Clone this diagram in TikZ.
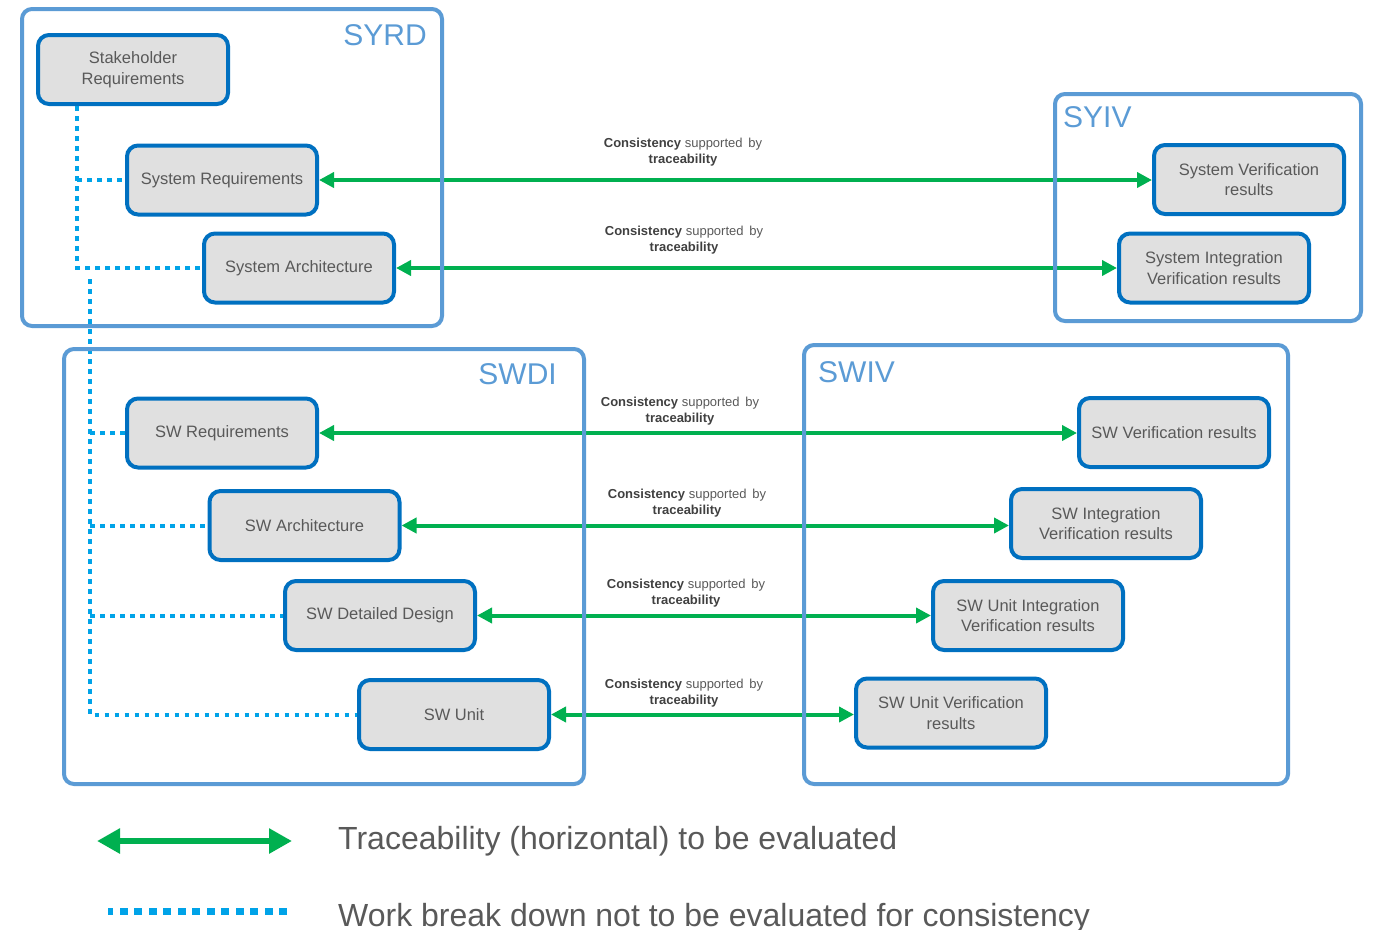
\documentclass[tikz,border=0pt]{standalone}
\usepackage{fontspec}
\setmainfont{Liberation Sans}
\usetikzlibrary{arrows.meta}

\definecolor{grpblue}{HTML}{5B9BD5}
\definecolor{boxblue}{HTML}{0070C0}
\definecolor{boxfill}{HTML}{E0E0E0}
\definecolor{txtgray}{HTML}{595959}
\definecolor{lblgray}{HTML}{404040}
\definecolor{tracegreen}{HTML}{00B050}
\definecolor{wbdblue}{HTML}{00A3E8}

\tikzset{
  wp/.style={draw=boxblue, line width=4pt, fill=boxfill, rounded corners=11pt,
    minimum width=190pt, minimum height=69pt, inner sep=0pt, align=center,
    text=txtgray, font=\fontsize{16.5}{20.5}\selectfont},
  grp/.style={draw=grpblue, line width=4pt, rounded corners=10pt},
  grplabel/.style={text=grpblue, inner sep=0pt, font=\fontsize{30}{34}\selectfont},
  trace/.style={draw=tracegreen, line width=4pt,
    {Triangle[length=15pt,width=15pt]}-{Triangle[length=15pt,width=15pt]}},
  wbd/.style={draw=wbdblue, line width=4pt, dash pattern=on 4.5pt off 5.5pt},
  tlabel/.style={align=center, text=lblgray, inner sep=0pt,
    font=\fontsize{13}{16}\selectfont},
  legendtext/.style={text=txtgray, inner sep=0pt, anchor=base west,
    font=\fontsize{32}{36}\selectfont}
}

\newcommand{\tracelabel}{\textbf{Consistency} {\color{txtgray}supported\, by}\\\textbf{traceability}}

\begin{document}
\begin{tikzpicture}[x=1pt,y=-1pt]
\useasboundingbox (0,0) rectangle (1373,929);

% work products
\node[wp] (stk)     at (133,69.5)   {Stakeholder\\Requirements};
\node[wp] (sysreq)  at (222,180)    {System Requirements};
\node[wp] (sysarch) at (299,268)    {System Architecture};
\node[wp] (sysver)  at (1249,179.5) {System Verification\\results};
\node[wp] (sysint)  at (1214,268)   {System Integration\\Verification results};
\node[wp] (swreq)   at (222,433)    {SW Requirements};
\node[wp] (swarch)  at (304.5,525.5){SW Architecture};
\node[wp] (swdd)    at (380,615.5)  {SW Detailed Design};
\node[wp] (swunit)  at (454,714.5)  {SW Unit};
\node[wp] (swver)   at (1174,432.5) {SW Verification results};
\node[wp] (swint)   at (1106,523.5) {SW Integration\\Verification results};
\node[wp] (swuint)  at (1028,615.5) {SW Unit Integration\\Verification results};
\node[wp] (swuver)  at (951,713)    {SW Unit Verification\\results};

% horizontal traceability
\draw[trace] (sysreq.east)  -- (sysreq.east -| sysver.west);
\draw[trace] (sysarch.east) -- (sysarch.east -| sysint.west);
\draw[trace] (swreq.east)   -- (swreq.east -| swver.west);
\draw[trace] (swarch.east)  -- (swarch.east -| swint.west);
\draw[trace] (swdd.east)    -- (swdd.east -| swuint.west);
\draw[trace] (swunit.east)  -- (swunit.east -| swuver.west);

\node[tlabel] (l1) at (683,152) {\tracelabel};
\node[tlabel] (l2) at (684,240) {\tracelabel};
\node[tlabel] (l3) at (680,411) {\tracelabel};
\node[tlabel] (l4) at (687,503) {\tracelabel};
\node[tlabel] (l5) at (686,593) {\tracelabel};
\node[tlabel] (l6) at (684,693) {\tracelabel};

% work break down
\coordinate (t1) at (77,107);
\coordinate (t2) at (90,279);
\draw[wbd] (stk.south -| t1) |- (sysarch.west);
\draw[wbd] (sysreq.west -| t1) -- (sysreq.west);
\draw[wbd] (t2) |- (swunit.west);
\draw[wbd] (swreq.west -| t2) -- (swreq.west);
\draw[wbd] (swarch.west -| t2) -- (swarch.west);
\draw[wbd] (swdd.west -| t2) -- (swdd.west);

% groups
\draw[grp] (22,9) rectangle (442,326);
\draw[grp] (1055,94) rectangle (1361,321);
\draw[grp] (64,349) rectangle (584,784);
\draw[grp] (804,345) rectangle (1288,784);
\node[grplabel, anchor=base east] (syrd) at (427,45)  {SYRD};
\node[grplabel, anchor=base west] (syiv) at (1063,127) {SYIV};
\node[grplabel, anchor=base east] (swdi) at (557,384)  {SWDI};
\node[grplabel, anchor=base west] (swiv) at (818,382)  {SWIV};

% legend
\coordinate (la) at (97,841);
\coordinate (lb) at (292,841);
\draw[draw=tracegreen, line width=6pt,
  {Triangle[length=23pt,width=24pt]}-{Triangle[length=23pt,width=24pt]}] (la) -- (lb);
\node[legendtext] (lt1) at (338,849) {Traceability (horizontal) to be evaluated};
\coordinate (lc) at (108,911.5);
\coordinate (ld) at (287,911.5);
\draw[draw=wbdblue, line width=7.5pt, dash pattern=on 8pt off 6.5pt] (ld) -- (lc);
\node[legendtext] (lt2) at (338,926) {Work break down not to be evaluated for consistency};
\end{tikzpicture}
\end{document}
